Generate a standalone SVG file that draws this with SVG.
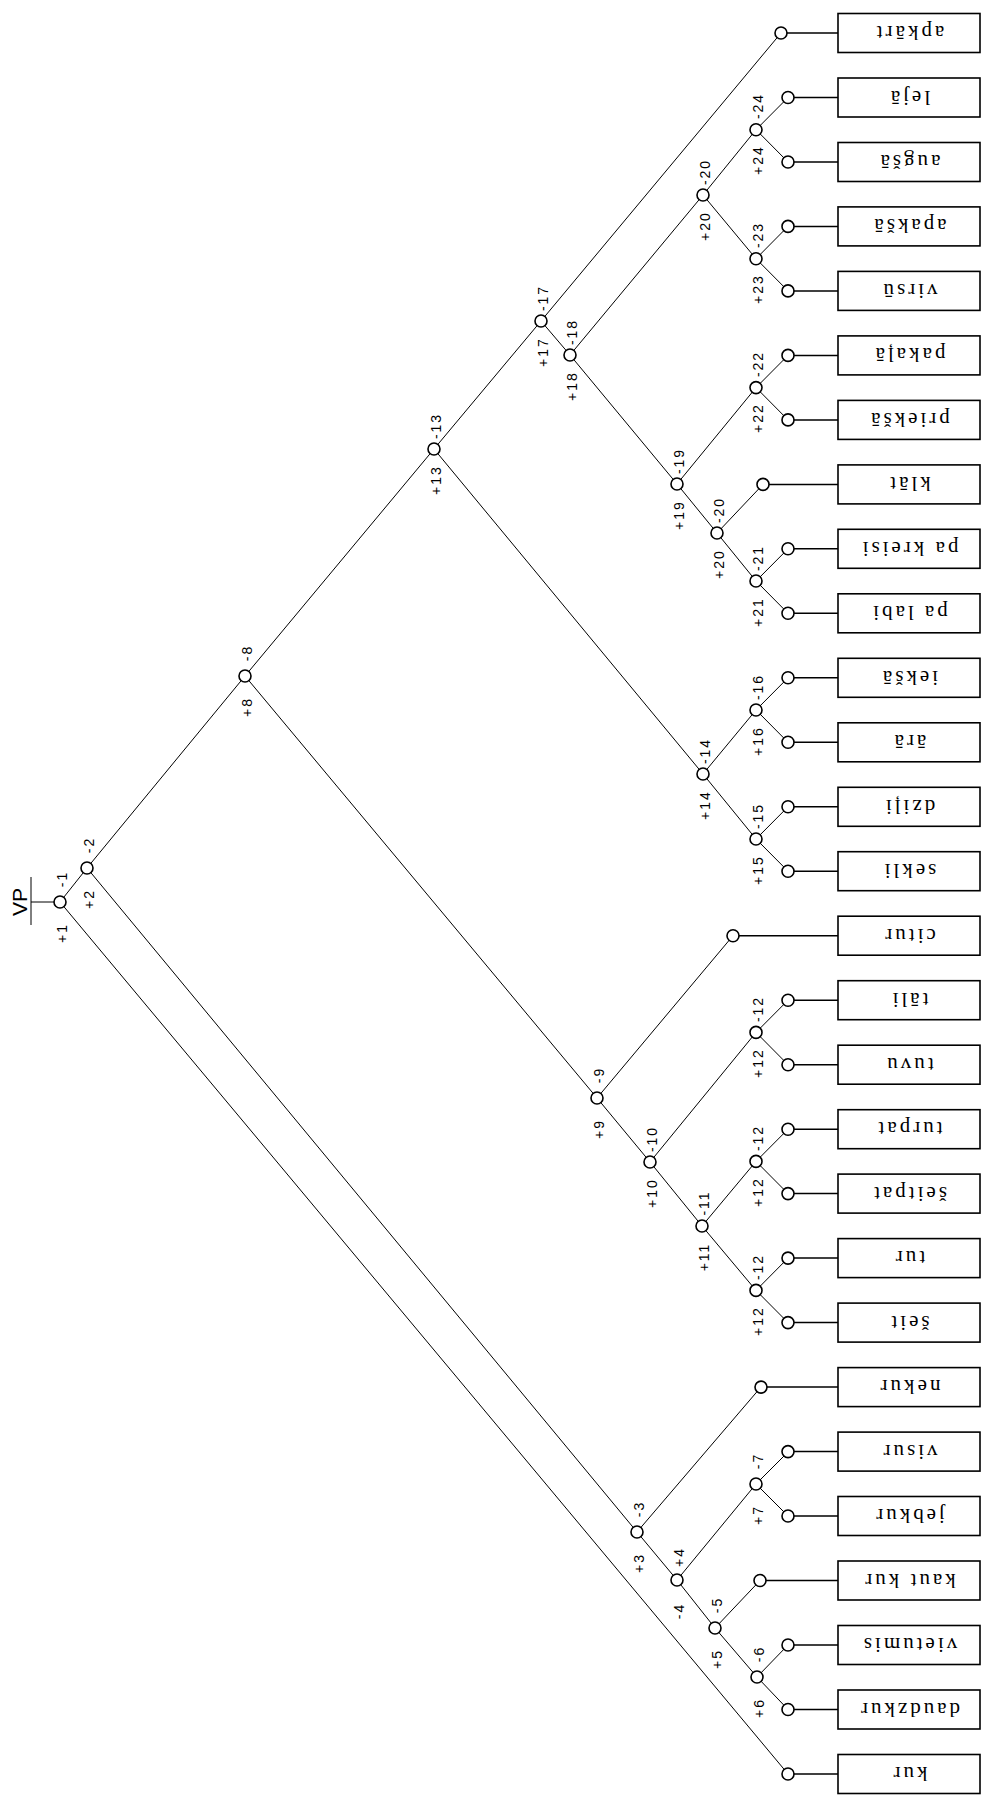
<svg xmlns="http://www.w3.org/2000/svg" width="982" height="1798" viewBox="0 0 982 1798">
<style>
.e{stroke:#000;stroke-width:1;fill:none}
.lk{stroke:#000;stroke-width:1.5;fill:none}
.n{fill:#fff;stroke:#000;stroke-width:1.6}
.b{fill:#fff;stroke:#000;stroke-width:1.6}
.bt{font-family:"Liberation Serif",serif;font-size:21px;text-anchor:middle;letter-spacing:3px;fill:#000}
.nl{font-family:"Liberation Sans",sans-serif;font-size:14px;text-anchor:middle;letter-spacing:2px;fill:#000}
.vp{font-family:"Liberation Sans",sans-serif;font-size:21px;text-anchor:middle;fill:#000}
</style>
<rect width="982" height="1798" fill="#fff"/>
<g id="connectors">
<line class="e" x1="31" y1="877" x2="31" y2="925"/>
<line class="e" x1="31" y1="902" x2="60" y2="902"/>
<line class="e" x1="60" y1="902" x2="87" y2="868"/>
<line class="e" x1="60" y1="902" x2="788" y2="1774"/>
<line class="e" x1="87" y1="868" x2="245" y2="676"/>
<line class="e" x1="87" y1="868" x2="637" y2="1532"/>
<line class="e" x1="637" y1="1532" x2="677" y2="1580"/>
<line class="e" x1="637" y1="1532" x2="761" y2="1387"/>
<line class="e" x1="677" y1="1580" x2="756" y2="1484"/>
<line class="e" x1="677" y1="1580" x2="715" y2="1628"/>
<line class="e" x1="756" y1="1484" x2="788" y2="1452"/>
<line class="e" x1="756" y1="1484" x2="788" y2="1516"/>
<line class="e" x1="715" y1="1628" x2="760" y2="1580.5"/>
<line class="e" x1="715" y1="1628" x2="757" y2="1677"/>
<line class="e" x1="757" y1="1677" x2="788" y2="1645"/>
<line class="e" x1="757" y1="1677" x2="788" y2="1709.5"/>
<line class="e" x1="245" y1="676" x2="434" y2="449"/>
<line class="e" x1="245" y1="676" x2="597" y2="1098"/>
<line class="e" x1="597" y1="1098" x2="733" y2="935.7"/>
<line class="e" x1="597" y1="1098" x2="650" y2="1162"/>
<line class="e" x1="650" y1="1162" x2="756" y2="1032.4"/>
<line class="e" x1="650" y1="1162" x2="702" y2="1226"/>
<line class="e" x1="756" y1="1032.4" x2="788" y2="1000.2"/>
<line class="e" x1="756" y1="1032.4" x2="788" y2="1064.7"/>
<line class="e" x1="702" y1="1226" x2="756" y2="1161.4"/>
<line class="e" x1="702" y1="1226" x2="756" y2="1290.4"/>
<line class="e" x1="756" y1="1161.4" x2="788" y2="1129.2"/>
<line class="e" x1="756" y1="1161.4" x2="788" y2="1193.6"/>
<line class="e" x1="756" y1="1290.4" x2="788" y2="1258.1"/>
<line class="e" x1="756" y1="1290.4" x2="788" y2="1322.6"/>
<line class="e" x1="434" y1="449" x2="541" y2="321"/>
<line class="e" x1="434" y1="449" x2="703" y2="774"/>
<line class="e" x1="703" y1="774" x2="756" y2="710"/>
<line class="e" x1="703" y1="774" x2="756" y2="839"/>
<line class="e" x1="756" y1="710" x2="788" y2="677.8"/>
<line class="e" x1="756" y1="710" x2="788" y2="742.3"/>
<line class="e" x1="756" y1="839" x2="788" y2="806.8"/>
<line class="e" x1="756" y1="839" x2="788" y2="871.2"/>
<line class="e" x1="541" y1="321" x2="781" y2="33"/>
<line class="e" x1="541" y1="321" x2="570" y2="355"/>
<line class="e" x1="570" y1="355" x2="703" y2="195"/>
<line class="e" x1="570" y1="355" x2="677" y2="484"/>
<line class="e" x1="703" y1="195" x2="756" y2="129.7"/>
<line class="e" x1="703" y1="195" x2="756" y2="258.7"/>
<line class="e" x1="756" y1="129.7" x2="788" y2="97.5"/>
<line class="e" x1="756" y1="129.7" x2="788" y2="162"/>
<line class="e" x1="756" y1="258.7" x2="788" y2="226.4"/>
<line class="e" x1="756" y1="258.7" x2="788" y2="290.9"/>
<line class="e" x1="677" y1="484" x2="756" y2="387.6"/>
<line class="e" x1="677" y1="484" x2="717" y2="533"/>
<line class="e" x1="756" y1="387.6" x2="788" y2="355.4"/>
<line class="e" x1="756" y1="387.6" x2="788" y2="419.9"/>
<line class="e" x1="717" y1="533" x2="763" y2="484.4"/>
<line class="e" x1="717" y1="533" x2="756" y2="581"/>
<line class="e" x1="756" y1="581" x2="788" y2="548.8"/>
<line class="e" x1="756" y1="581" x2="788" y2="613.3"/>
<line class="lk" x1="781" y1="33" x2="838" y2="33"/>
<line class="lk" x1="788" y1="97.5" x2="838" y2="97.5"/>
<line class="lk" x1="788" y1="162" x2="838" y2="162"/>
<line class="lk" x1="788" y1="226.4" x2="838" y2="226.4"/>
<line class="lk" x1="788" y1="290.9" x2="838" y2="290.9"/>
<line class="lk" x1="788" y1="355.4" x2="838" y2="355.4"/>
<line class="lk" x1="788" y1="419.9" x2="838" y2="419.9"/>
<line class="lk" x1="763" y1="484.4" x2="838" y2="484.4"/>
<line class="lk" x1="788" y1="548.8" x2="838" y2="548.8"/>
<line class="lk" x1="788" y1="613.3" x2="838" y2="613.3"/>
<line class="lk" x1="788" y1="677.8" x2="838" y2="677.8"/>
<line class="lk" x1="788" y1="742.3" x2="838" y2="742.3"/>
<line class="lk" x1="788" y1="806.8" x2="838" y2="806.8"/>
<line class="lk" x1="788" y1="871.2" x2="838" y2="871.2"/>
<line class="lk" x1="733" y1="935.7" x2="838" y2="935.7"/>
<line class="lk" x1="788" y1="1000.2" x2="838" y2="1000.2"/>
<line class="lk" x1="788" y1="1064.7" x2="838" y2="1064.7"/>
<line class="lk" x1="788" y1="1129.2" x2="838" y2="1129.2"/>
<line class="lk" x1="788" y1="1193.6" x2="838" y2="1193.6"/>
<line class="lk" x1="788" y1="1258.1" x2="838" y2="1258.1"/>
<line class="lk" x1="788" y1="1322.6" x2="838" y2="1322.6"/>
<line class="lk" x1="761" y1="1387.1" x2="838" y2="1387.1"/>
<line class="lk" x1="788" y1="1451.6" x2="838" y2="1451.6"/>
<line class="lk" x1="788" y1="1516" x2="838" y2="1516"/>
<line class="lk" x1="760" y1="1580.5" x2="838" y2="1580.5"/>
<line class="lk" x1="788" y1="1645" x2="838" y2="1645"/>
<line class="lk" x1="788" y1="1709.5" x2="838" y2="1709.5"/>
<line class="lk" x1="788" y1="1774" x2="838" y2="1774"/>
</g>
<g id="root"><text class="vp" transform="translate(27,902) rotate(-90)">VP</text></g>
<g id="n1"><circle class="n" cx="60" cy="902" r="6"/><text class="nl" transform="translate(67,879) rotate(-90)">-1</text><text class="nl" transform="translate(67,933) rotate(-90)">+1</text></g>
<g id="n2"><circle class="n" cx="87" cy="868" r="6"/><text class="nl" transform="translate(94,845) rotate(-90)">-2</text><text class="nl" transform="translate(94,899) rotate(-90)">+2</text></g>
<g id="n3"><circle class="n" cx="637" cy="1532" r="6"/><text class="nl" transform="translate(644,1509) rotate(-90)">-3</text><text class="nl" transform="translate(644,1563) rotate(-90)">+3</text></g>
<g id="n4"><circle class="n" cx="677" cy="1580" r="6"/><text class="nl" transform="translate(684,1557) rotate(-90)">+4</text><text class="nl" transform="translate(684,1611) rotate(-90)">-4</text></g>
<g id="n5"><circle class="n" cx="715" cy="1628" r="6"/><text class="nl" transform="translate(722,1605) rotate(-90)">-5</text><text class="nl" transform="translate(722,1659) rotate(-90)">+5</text></g>
<g id="n6"><circle class="n" cx="757" cy="1677" r="6"/><text class="nl" transform="translate(764,1654) rotate(-90)">-6</text><text class="nl" transform="translate(764,1708) rotate(-90)">+6</text></g>
<g id="n7"><circle class="n" cx="756" cy="1484" r="6"/><text class="nl" transform="translate(763,1461) rotate(-90)">-7</text><text class="nl" transform="translate(763,1515) rotate(-90)">+7</text></g>
<g id="n8"><circle class="n" cx="245" cy="676" r="6"/><text class="nl" transform="translate(252,653) rotate(-90)">-8</text><text class="nl" transform="translate(252,707) rotate(-90)">+8</text></g>
<g id="n9"><circle class="n" cx="597" cy="1098" r="6"/><text class="nl" transform="translate(604,1075) rotate(-90)">-9</text><text class="nl" transform="translate(604,1129) rotate(-90)">+9</text></g>
<g id="n10"><circle class="n" cx="650" cy="1162" r="6"/><text class="nl" transform="translate(657,1139) rotate(-90)">-10</text><text class="nl" transform="translate(657,1193) rotate(-90)">+10</text></g>
<g id="n11"><circle class="n" cx="702" cy="1226" r="6"/><text class="nl" transform="translate(709,1203) rotate(-90)">-11</text><text class="nl" transform="translate(709,1257) rotate(-90)">+11</text></g>
<g id="n12c"><circle class="n" cx="756" cy="1032.4" r="6"/><text class="nl" transform="translate(763,1009) rotate(-90)">-12</text><text class="nl" transform="translate(763,1063) rotate(-90)">+12</text></g>
<g id="n12a"><circle class="n" cx="756" cy="1161.4" r="6"/><text class="nl" transform="translate(763,1138) rotate(-90)">-12</text><text class="nl" transform="translate(763,1192) rotate(-90)">+12</text></g>
<g id="n12b"><circle class="n" cx="756" cy="1290.4" r="6"/><text class="nl" transform="translate(763,1267) rotate(-90)">-12</text><text class="nl" transform="translate(763,1321) rotate(-90)">+12</text></g>
<g id="n13"><circle class="n" cx="434" cy="449" r="6"/><text class="nl" transform="translate(441,426) rotate(-90)">-13</text><text class="nl" transform="translate(441,480) rotate(-90)">+13</text></g>
<g id="n14"><circle class="n" cx="703" cy="774" r="6"/><text class="nl" transform="translate(710,751) rotate(-90)">-14</text><text class="nl" transform="translate(710,805) rotate(-90)">+14</text></g>
<g id="n15"><circle class="n" cx="756" cy="839" r="6"/><text class="nl" transform="translate(763,816) rotate(-90)">-15</text><text class="nl" transform="translate(763,870) rotate(-90)">+15</text></g>
<g id="n16"><circle class="n" cx="756" cy="710" r="6"/><text class="nl" transform="translate(763,687) rotate(-90)">-16</text><text class="nl" transform="translate(763,741) rotate(-90)">+16</text></g>
<g id="n17"><circle class="n" cx="541" cy="321" r="6"/><text class="nl" transform="translate(548,298) rotate(-90)">-17</text><text class="nl" transform="translate(548,352) rotate(-90)">+17</text></g>
<g id="n18"><circle class="n" cx="570" cy="355" r="6"/><text class="nl" transform="translate(577,332) rotate(-90)">-18</text><text class="nl" transform="translate(577,386) rotate(-90)">+18</text></g>
<g id="n19"><circle class="n" cx="677" cy="484" r="6"/><text class="nl" transform="translate(684,461) rotate(-90)">-19</text><text class="nl" transform="translate(684,515) rotate(-90)">+19</text></g>
<g id="n20a"><circle class="n" cx="717" cy="533" r="6"/><text class="nl" transform="translate(724,510) rotate(-90)">-20</text><text class="nl" transform="translate(724,564) rotate(-90)">+20</text></g>
<g id="n21"><circle class="n" cx="756" cy="581" r="6"/><text class="nl" transform="translate(763,558) rotate(-90)">-21</text><text class="nl" transform="translate(763,612) rotate(-90)">+21</text></g>
<g id="n22"><circle class="n" cx="756" cy="387.6" r="6"/><text class="nl" transform="translate(763,364) rotate(-90)">-22</text><text class="nl" transform="translate(763,418) rotate(-90)">+22</text></g>
<g id="n20b"><circle class="n" cx="703" cy="195" r="6"/><text class="nl" transform="translate(710,172) rotate(-90)">-20</text><text class="nl" transform="translate(710,226) rotate(-90)">+20</text></g>
<g id="n23"><circle class="n" cx="756" cy="258.7" r="6"/><text class="nl" transform="translate(763,235) rotate(-90)">-23</text><text class="nl" transform="translate(763,289) rotate(-90)">+23</text></g>
<g id="n24"><circle class="n" cx="756" cy="129.7" r="6"/><text class="nl" transform="translate(763,106) rotate(-90)">-24</text><text class="nl" transform="translate(763,160) rotate(-90)">+24</text></g>
<g id="leaf0"><circle class="n" cx="781" cy="33" r="6"/><rect class="b" x="838" y="13.5" width="142" height="39"/><text class="bt" transform="rotate(180 909 33)" x="909" y="40">apkārt</text></g>
<g id="leaf1"><circle class="n" cx="788" cy="97.5" r="6"/><rect class="b" x="838" y="78" width="142" height="39"/><text class="bt" transform="rotate(180 909 97.5)" x="909" y="104.5">lejā</text></g>
<g id="leaf2"><circle class="n" cx="788" cy="162" r="6"/><rect class="b" x="838" y="142.5" width="142" height="39"/><text class="bt" transform="rotate(180 909 162)" x="909" y="169">augšā</text></g>
<g id="leaf3"><circle class="n" cx="788" cy="226.4" r="6"/><rect class="b" x="838" y="206.9" width="142" height="39"/><text class="bt" transform="rotate(180 909 226.4)" x="909" y="233.4">apakšā</text></g>
<g id="leaf4"><circle class="n" cx="788" cy="290.9" r="6"/><rect class="b" x="838" y="271.4" width="142" height="39"/><text class="bt" transform="rotate(180 909 290.9)" x="909" y="297.9">virsū</text></g>
<g id="leaf5"><circle class="n" cx="788" cy="355.4" r="6"/><rect class="b" x="838" y="335.9" width="142" height="39"/><text class="bt" transform="rotate(180 909 355.4)" x="909" y="362.4">pakaļā</text></g>
<g id="leaf6"><circle class="n" cx="788" cy="419.9" r="6"/><rect class="b" x="838" y="400.4" width="142" height="39"/><text class="bt" transform="rotate(180 909 419.9)" x="909" y="426.9">priekšā</text></g>
<g id="leaf7"><circle class="n" cx="763" cy="484.4" r="6"/><rect class="b" x="838" y="464.9" width="142" height="39"/><text class="bt" transform="rotate(180 909 484.4)" x="909" y="491.4">klāt</text></g>
<g id="leaf8"><circle class="n" cx="788" cy="548.8" r="6"/><rect class="b" x="838" y="529.3" width="142" height="39"/><text class="bt" transform="rotate(180 909 548.8)" x="909" y="555.8">pa kreisi</text></g>
<g id="leaf9"><circle class="n" cx="788" cy="613.3" r="6"/><rect class="b" x="838" y="593.8" width="142" height="39"/><text class="bt" transform="rotate(180 909 613.3)" x="909" y="620.3">pa labi</text></g>
<g id="leaf10"><circle class="n" cx="788" cy="677.8" r="6"/><rect class="b" x="838" y="658.3" width="142" height="39"/><text class="bt" transform="rotate(180 909 677.8)" x="909" y="684.8">iekšā</text></g>
<g id="leaf11"><circle class="n" cx="788" cy="742.3" r="6"/><rect class="b" x="838" y="722.8" width="142" height="39"/><text class="bt" transform="rotate(180 909 742.3)" x="909" y="749.3">ārā</text></g>
<g id="leaf12"><circle class="n" cx="788" cy="806.8" r="6"/><rect class="b" x="838" y="787.3" width="142" height="39"/><text class="bt" transform="rotate(180 909 806.8)" x="909" y="813.8">dziļi</text></g>
<g id="leaf13"><circle class="n" cx="788" cy="871.2" r="6"/><rect class="b" x="838" y="851.7" width="142" height="39"/><text class="bt" transform="rotate(180 909 871.2)" x="909" y="878.2">sekli</text></g>
<g id="leaf14"><circle class="n" cx="733" cy="935.7" r="6"/><rect class="b" x="838" y="916.2" width="142" height="39"/><text class="bt" transform="rotate(180 909 935.7)" x="909" y="942.7">citur</text></g>
<g id="leaf15"><circle class="n" cx="788" cy="1000.2" r="6"/><rect class="b" x="838" y="980.7" width="142" height="39"/><text class="bt" transform="rotate(180 909 1000.2)" x="909" y="1007.2">tāli</text></g>
<g id="leaf16"><circle class="n" cx="788" cy="1064.7" r="6"/><rect class="b" x="838" y="1045.2" width="142" height="39"/><text class="bt" transform="rotate(180 909 1064.7)" x="909" y="1071.7">tuvu</text></g>
<g id="leaf17"><circle class="n" cx="788" cy="1129.2" r="6"/><rect class="b" x="838" y="1109.7" width="142" height="39"/><text class="bt" transform="rotate(180 909 1129.2)" x="909" y="1136.2">turpat</text></g>
<g id="leaf18"><circle class="n" cx="788" cy="1193.6" r="6"/><rect class="b" x="838" y="1174.1" width="142" height="39"/><text class="bt" transform="rotate(180 909 1193.6)" x="909" y="1200.6">šeitpat</text></g>
<g id="leaf19"><circle class="n" cx="788" cy="1258.1" r="6"/><rect class="b" x="838" y="1238.6" width="142" height="39"/><text class="bt" transform="rotate(180 909 1258.1)" x="909" y="1265.1">tur</text></g>
<g id="leaf20"><circle class="n" cx="788" cy="1322.6" r="6"/><rect class="b" x="838" y="1303.1" width="142" height="39"/><text class="bt" transform="rotate(180 909 1322.6)" x="909" y="1329.6">šeit</text></g>
<g id="leaf21"><circle class="n" cx="761" cy="1387.1" r="6"/><rect class="b" x="838" y="1367.6" width="142" height="39"/><text class="bt" transform="rotate(180 909 1387.1)" x="909" y="1394.1">nekur</text></g>
<g id="leaf22"><circle class="n" cx="788" cy="1451.6" r="6"/><rect class="b" x="838" y="1432.1" width="142" height="39"/><text class="bt" transform="rotate(180 909 1451.6)" x="909" y="1458.6">visur</text></g>
<g id="leaf23"><circle class="n" cx="788" cy="1516" r="6"/><rect class="b" x="838" y="1496.5" width="142" height="39"/><text class="bt" transform="rotate(180 909 1516)" x="909" y="1523">jebkur</text></g>
<g id="leaf24"><circle class="n" cx="760" cy="1580.5" r="6"/><rect class="b" x="838" y="1561" width="142" height="39"/><text class="bt" transform="rotate(180 909 1580.5)" x="909" y="1587.5">kaut kur</text></g>
<g id="leaf25"><circle class="n" cx="788" cy="1645" r="6"/><rect class="b" x="838" y="1625.5" width="142" height="39"/><text class="bt" transform="rotate(180 909 1645)" x="909" y="1652">vietumis</text></g>
<g id="leaf26"><circle class="n" cx="788" cy="1709.5" r="6"/><rect class="b" x="838" y="1690" width="142" height="39"/><text class="bt" transform="rotate(180 909 1709.5)" x="909" y="1716.5">daudzkur</text></g>
<g id="leaf27"><circle class="n" cx="788" cy="1774" r="6"/><rect class="b" x="838" y="1754.5" width="142" height="39"/><text class="bt" transform="rotate(180 909 1774)" x="909" y="1781">kur</text></g>
</svg>
